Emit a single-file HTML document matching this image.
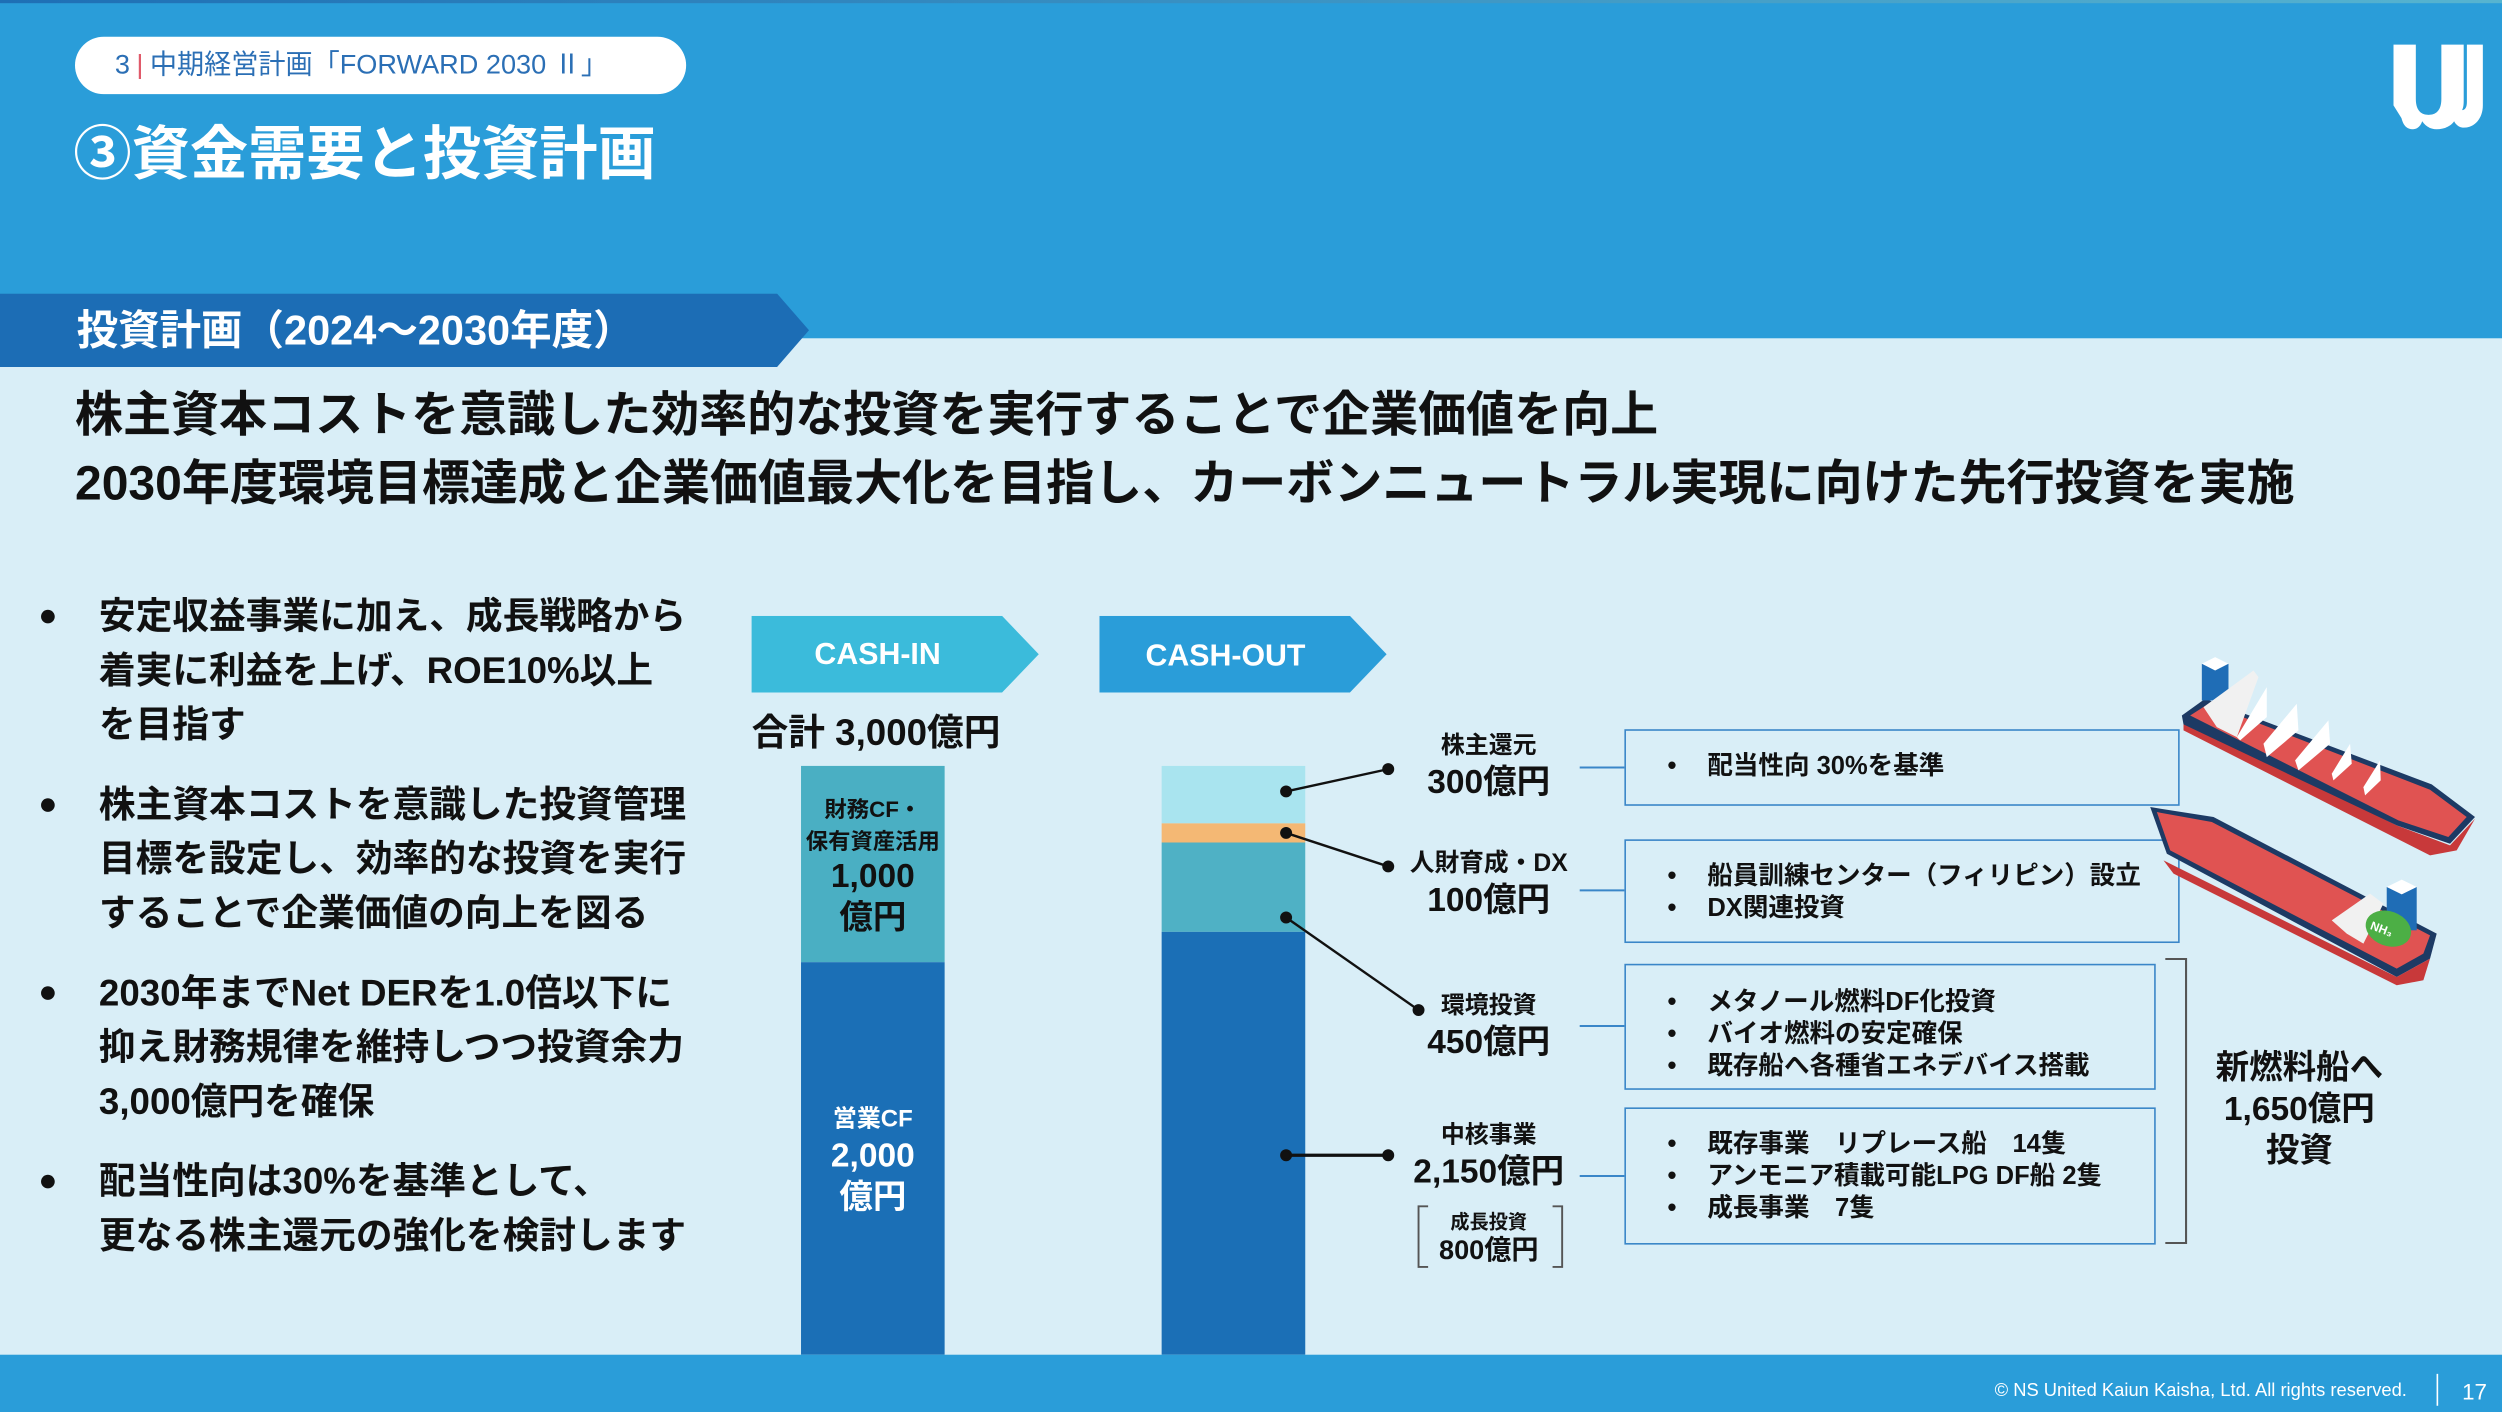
<!DOCTYPE html>
<html><head><meta charset="utf-8">
<style>
*{margin:0;padding:0;box-sizing:border-box}
html,body{width:2502px;height:1412px;overflow:hidden;background:#d9eef7}
#w{position:absolute;left:0;top:0;width:1568px;height:885px;transform:scale(1.59566);transform-origin:0 0;font-family:"Liberation Sans","Noto Sans CJK JP",sans-serif;font-weight:bold;color:#111}
.a{position:absolute;white-space:nowrap}
.c{text-align:center}
.box{position:absolute;border:1.5px solid #3a86c8;background:transparent}
.li{position:absolute;font-size:16px;font-weight:bold;line-height:20px}
.li span{display:inline-block;width:25px}
</style></head><body>
<div id="w">
<div class="a" style="left:0;top:0;width:1568px;height:212px;background:#2a9dd9"></div>
<div class="a" style="left:0;top:0;width:1568px;height:2px;background:linear-gradient(90deg,#1e6fb5,#56b4d0)"></div>
<div class="a" style="left:47px;top:23px;width:383px;height:36px;background:#fff;border-radius:18px"></div>
<div class="a" style="left:72px;top:29px;font-size:17px;font-weight:normal;color:#2b6fb5;line-height:24px">3<span style="color:#e05a6a;margin:0 4px">|</span>中期経営計画「FORWARD 2030 Ⅱ」</div>
<div class="a" style="left:46px;top:73px;font-size:36.5px;color:#fff;line-height:48px">③資金需要と投資計画</div>
<svg class="a" style="left:1498px;top:26px" width="60" height="56" viewBox="0 0 60 56"><path d="M2 2h14v34c0 8 4 10 8 10s8-2 8-10V2h14v34c0 3 0 5-1 7 2 0 3-2 3-5V2h10v38c0 8-5 14-12 14-3 0-5-2-6-4-2 3-6 5-11 5-4 0-7-2-9-5-1 3-3 5-6 5-4 0-6-3-7-7L2 40z" fill="#fff"/></svg>
<svg class="a" style="left:0;top:184px" width="510" height="46"><polygon points="0,0 487,0 507,23 487,46 0,46" fill="#1c6db5"/></svg>
<div class="a" style="left:48px;top:188px;font-size:26px;color:#fff;line-height:38px">投資計画（2024～2030年度）</div>
<div class="a" style="left:47px;top:240px;font-size:30.1px;line-height:42px">株主資本コストを意識した効率的な投資を実行することで企業価値を向上</div>
<div class="a" style="left:47px;top:283px;font-size:30.1px;line-height:42px">2030年度環境目標達成と企業価値最大化を目指し、カーボンニュートラル実現に向けた先行投資を実施</div>

<div class="a" style="left:24px;top:369px;font-size:23px;line-height:34px;font-weight:bold">
<div style="position:relative;padding-left:38px">
<span style="position:absolute;left:0;font-size:20px">●</span>安定収益事業に加え、成長戦略から<br>着実に利益を上げ、ROE10%以上<br>を目指す</div>
<div style="position:relative;padding-left:38px;margin-top:16px">
<span style="position:absolute;left:0;font-size:20px">●</span>株主資本コストを意識した投資管理<br>目標を設定し、効率的な投資を実行<br>することで企業価値の向上を図る</div>
<div style="position:relative;padding-left:38px;margin-top:16px">
<span style="position:absolute;left:0;font-size:20px">●</span>2030年までNet DERを1.0倍以下に<br>抑え財務規律を維持しつつ投資余力<br>3,000億円を確保</div>
<div style="position:relative;padding-left:38px;margin-top:16px">
<span style="position:absolute;left:0;font-size:20px">●</span>配当性向は30%を基準として、<br>更なる株主還元の強化を検討します</div>
</div>

<svg class="a" style="left:471px;top:386px" width="182" height="49"><polygon points="0,0 157,0 180,24 157,48 0,48" fill="#3bbbdb"/></svg>
<div class="a c" style="left:471px;top:397px;width:158px;font-size:19px;color:#fff;line-height:28px">CASH-IN</div>
<svg class="a" style="left:689px;top:386px" width="182" height="49"><polygon points="0,0 157,0 180,24 157,48 0,48" fill="#2a9dd9"/></svg>
<div class="a c" style="left:689px;top:398px;width:158px;font-size:19px;color:#fff;line-height:28px">CASH-OUT</div>
<div class="a c" style="left:444px;top:444px;width:210px;font-size:23px;line-height:30px">合計 3,000億円</div>

<div class="a" style="left:502px;top:480px;width:90px;height:123px;background:#4aafc3"></div>
<div class="a" style="left:502px;top:603px;width:90px;height:246px;background:#1b6fb6"></div>
<div class="a c" style="left:482px;top:497px;width:130px;font-size:14px;line-height:20px">財務CF・<br>保有資産活用</div>
<div class="a c" style="left:482px;top:537px;width:130px;font-size:21px;line-height:26px">1,000<br>億円</div>
<div class="a c" style="left:482px;top:691px;width:130px;font-size:15px;line-height:22px;color:#fff">営業CF</div>
<div class="a c" style="left:482px;top:712px;width:130px;font-size:21px;line-height:26px;color:#fff">2,000<br>億円</div>

<div class="a" style="left:728px;top:480px;width:90px;height:36px;background:#a9e4ef"></div>
<div class="a" style="left:728px;top:516px;width:90px;height:12px;background:#f4b874"></div>
<div class="a" style="left:728px;top:528px;width:90px;height:56px;background:#4fb1c5"></div>
<div class="a" style="left:728px;top:584px;width:90px;height:265px;background:#1b6fb6"></div>

<svg class="a" style="left:0;top:0" width="1568" height="885">
<g stroke="#111" stroke-width="1.5" fill="#111">
<line x1="806" y1="496" x2="870" y2="482"/><circle cx="806" cy="496" r="3"/><circle cx="870" cy="482" r="3"/>
<line x1="806" y1="522" x2="870" y2="543"/><circle cx="806" cy="522" r="3"/><circle cx="870" cy="543" r="3"/>
<line x1="806" y1="575" x2="889" y2="633"/><circle cx="806" cy="575" r="3"/><circle cx="889" cy="633" r="3"/>
<line x1="806" y1="724" x2="870" y2="724" stroke-width="2"/><circle cx="806" cy="724" r="3"/><circle cx="870" cy="724" r="3"/>
</g>
<g stroke="#3a86c8" stroke-width="1.2">
<line x1="990" y1="481" x2="1018" y2="481"/>
<line x1="990" y1="558" x2="1018" y2="558"/>
<line x1="990" y1="643" x2="1018" y2="643"/>
<line x1="990" y1="737" x2="1018" y2="737"/>
</g>
<polyline points="1357,601 1370,601 1370,779 1357,779" fill="none" stroke="#555" stroke-width="1.3"/>
<polyline points="895,756 889,756 889,794 895,794" fill="none" stroke="#555" stroke-width="1.2"/>
<polyline points="973,756 979,756 979,794 973,794" fill="none" stroke="#555" stroke-width="1.2"/>
</svg>

<div class="a c" style="left:873px;top:457px;width:120px;font-size:15px;line-height:22px">株主還元</div>
<div class="a c" style="left:868px;top:478px;width:130px;font-size:21px;line-height:26px">300億円</div>
<div class="a c" style="left:863px;top:531px;width:140px;font-size:15.5px;line-height:22px">人財育成・DX</div>
<div class="a c" style="left:868px;top:552px;width:130px;font-size:21px;line-height:26px">100億円</div>
<div class="a c" style="left:873px;top:620px;width:120px;font-size:15px;line-height:22px">環境投資</div>
<div class="a c" style="left:868px;top:641px;width:130px;font-size:21px;line-height:26px">450億円</div>
<div class="a c" style="left:873px;top:701px;width:120px;font-size:15px;line-height:22px">中核事業</div>
<div class="a c" style="left:863px;top:722px;width:140px;font-size:21px;line-height:26px">2,150億円</div>
<div class="a c" style="left:873px;top:758px;width:120px;font-size:12px;line-height:16px">成長投資</div>
<div class="a c" style="left:873px;top:774px;width:120px;font-size:17px;line-height:20px">800億円</div>

<div class="box" style="left:1018px;top:457px;width:348px;height:48px"></div>
<div class="box" style="left:1018px;top:526px;width:348px;height:65px"></div>
<div class="box" style="left:1018px;top:604px;width:333px;height:79px"></div>
<div class="box" style="left:1018px;top:694px;width:333px;height:86px"></div>

<div class="li" style="left:1045px;top:471px"><span>•</span>配当性向 30%を基準</div>
<div class="li" style="left:1045px;top:540px"><span>•</span>船員訓練センター（フィリピン）設立<br><span>•</span>DX関連投資</div>
<div class="li" style="left:1045px;top:619px"><span>•</span>メタノール燃料DF化投資<br><span>•</span>バイオ燃料の安定確保<br><span>•</span>既存船へ各種省エネデバイス搭載</div>
<div class="li" style="left:1045px;top:708px"><span>•</span>既存事業　リプレース船　14隻<br><span>•</span>アンモニア積載可能LPG DF船 2隻<br><span>•</span>成長事業　7隻</div>

<div class="a c" style="left:1366px;top:657px;width:150px;font-size:21px;line-height:26px">新燃料船へ<br>1,650億円<br>投資</div>

<svg class="a" style="left:1335px;top:395px" width="233" height="232" viewBox="0 0 1116 1110">
<g stroke-linejoin="round">
<polygon points="160,270 800,585 960,645 1035,565 980,660 900,675 160,300" fill="#c8393a"/>
<polygon points="155,255 225,205 905,462 1035,560 960,640 800,585 160,282" fill="#1d3a64"/>
<polygon points="180,255 235,220 900,478 1010,560 955,620 805,570" fill="#e05352"/>
<rect x="215" y="100" width="80" height="110" fill="#1f6db6"/>
<polygon points="215,100 255,80 295,100 255,120" fill="#fff"/>
<polygon points="220,230 370,120 385,140 320,320 260,290" fill="#f1f1f1"/>
<polygon points="320,320 410,170 410,260 330,330" fill="#fff"/>
<polygon points="400,340 500,220 505,300 410,380" fill="#fff"/>
<polygon points="495,390 595,270 600,340 505,420" fill="#fff"/>
<polygon points="605,430 660,340 665,400 610,450" fill="#fff"/>
<polygon points="700,470 750,390 752,450 705,495" fill="#fff"/>
<polygon points="60,530 250,560 920,910 900,985 800,1040 110,670" fill="#1d3a64"/>
<polygon points="100,690 800,1040 900,985 880,1050 800,1065 130,730" fill="#c8393a"/>
<polygon points="80,545 245,575 900,915 880,970 800,1015 120,660" fill="#e05352"/>
<rect x="770" y="770" width="90" height="130" fill="#1f6db6"/>
<polygon points="770,770 815,748 860,770 815,792" fill="#fff"/>
<polygon points="605,870 720,790 760,820 700,940 650,910" fill="#f1f1f1"/>
<ellipse cx="775" cy="895" rx="70" ry="52" fill="#4caf45" transform="rotate(20 775 895)"/>
<text x="722" y="915" font-size="36" fill="#fff" font-family="Liberation Sans" font-weight="bold" transform="rotate(20 775 895)">NH₃</text>
</g>
</svg>

<div class="a" style="left:0;top:849px;width:1568px;height:36px;background:#2a9dd9"></div>
<div class="a" style="left:1250px;top:864px;font-size:11.5px;font-weight:normal;color:#fff;line-height:16px">© NS United Kaiun Kaisha, Ltd. All rights reserved.</div>
<div class="a" style="left:1527px;top:861px;width:1px;height:20px;background:#fff"></div>
<div class="a" style="left:1543px;top:862px;font-size:14px;font-weight:normal;color:#fff;line-height:20px">17</div>
</div>
</body></html>
